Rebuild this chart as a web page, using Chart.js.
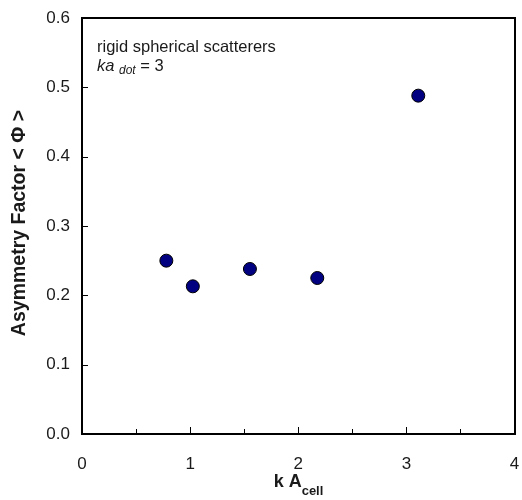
<!DOCTYPE html>
<html>
<head>
<meta charset="utf-8">
<script src="https://cdn.jsdelivr.net/npm/chart.js@4"></script>
<style>
  html, body { margin: 0; padding: 0; background: #fff; overflow: hidden; }
  #wrap { width: 522px; height: 500px; }
  canvas { display: block; }
</style>
</head>
<body>
<div id="wrap"><canvas id="chart" width="522" height="500"></canvas></div>
<script>
// k A_cell values and asymmetry factor
const kAcell = [0.78, 1.025, 1.553, 2.176, 3.11];
const asymmetry = [0.250, 0.213, 0.238, 0.225, 0.488];
const xTicks = [0, 1, 2, 3, 4];
const yTicks = [0.0, 0.1, 0.2, 0.3, 0.4, 0.5, 0.6];

const points = kAcell.map((x, i) => ({ x: x, y: asymmetry[i] }));
const FONT = 'Liberation Sans, Arial, sans-serif';

// frame, inward ticks, axis titles and the note in the corner
const decorations = {
  id: 'decorations',
  afterDraw(chart) {
    const ctx = chart.ctx;
    const xs = chart.scales.x;
    const ys = chart.scales.y;
    const left = Math.round(xs.getPixelForValue(0));
    const right = Math.round(xs.getPixelForValue(4));
    const top = Math.round(ys.getPixelForValue(0.6));
    const bottom = Math.round(ys.getPixelForValue(0));
    ctx.save();
    ctx.fillStyle = '#000';
    // x ticks: major at integers, minor halfway
    for (let v = 0; v <= 4; v += 0.5) {
      const px = Math.round(xs.getPixelForValue(v));
      const len = Number.isInteger(v) ? 7 : 5;
      ctx.fillRect(px, bottom - len, 1, len);
    }
    yTicks.forEach(v => {
      const py = Math.round(ys.getPixelForValue(v));
      ctx.fillRect(left, py, 6, 1);
    });
    // frame, 2px on each side
    ctx.fillRect(left - 1, top - 1, right - left + 2, 2);
    ctx.fillRect(left - 1, bottom - 1, right - left + 2, 2);
    ctx.fillRect(left - 1, top - 1, 2, bottom - top + 2);
    ctx.fillRect(right - 1, top - 1, 2, bottom - top + 2);

    ctx.fillStyle = '#1a1a1a';
    // y title
    ctx.save();
    ctx.translate(20, (top + bottom) / 2 - 3);
    ctx.rotate(-Math.PI / 2);
    ctx.font = 'bold 19.5px ' + FONT;
    ctx.textAlign = 'center';
    ctx.textBaseline = 'middle';
    ctx.fillText('Asymmetry Factor < \u03A6 >', 0, 0);
    ctx.restore();

    // x title with subscript
    const cx = (left + right) / 2;
    ctx.textBaseline = 'alphabetic';
    ctx.font = 'bold 18px ' + FONT;
    const main = 'k A';
    const mainW = ctx.measureText(main).width;
    ctx.font = 'bold 13px ' + FONT;
    const sub = 'cell';
    const subW = ctx.measureText(sub).width;
    const startX = cx - (mainW + subW) / 2;
    ctx.textAlign = 'left';
    ctx.font = 'bold 18px ' + FONT;
    ctx.fillText(main, startX, 487);
    ctx.font = 'bold 13px ' + FONT;
    ctx.fillText(sub, startX + mainW, 495);

    // note
    ctx.font = '16.5px ' + FONT;
    ctx.fillText('rigid spherical scatterers', 97, 52);
    let tx = 97;
    const ty = 71;
    ctx.font = 'italic 16.5px ' + FONT;
    ctx.fillText('ka', tx, ty);
    tx += ctx.measureText('ka ').width;
    ctx.font = 'italic 12px ' + FONT;
    ctx.fillText('dot', tx, ty + 3);
    tx += ctx.measureText('dot').width;
    ctx.font = '16.5px ' + FONT;
    ctx.fillText(' = 3', tx, ty);
    ctx.restore();
  }
};

new Chart(document.getElementById('chart'), {
  type: 'scatter',
  data: {
    datasets: [{
      data: points,
      backgroundColor: '#000080',
      borderColor: '#000',
      borderWidth: 1,
      pointRadius: 6.5,
      pointHoverRadius: 6.5
    }]
  },
  options: {
    responsive: false,
    animation: false,
    layout: { padding: { left: 0, top: 18, right: 6, bottom: 0 } },
    plugins: { legend: { display: false }, tooltip: { enabled: false } },
    scales: {
      x: {
        type: 'linear',
        min: 0, max: 4,
        afterBuildTicks: s => { s.ticks = xTicks.map(v => ({ value: v })); },
        afterFit: s => { s.height = 66; s.paddingLeft = 0; s.paddingRight = 0; },
        grid: { display: false, drawTicks: false },
        border: { display: false },
        ticks: {
          padding: 20,
          color: '#1a1a1a',
          font: { family: FONT, size: 17 },
          callback: v => String(v)
        }
      },
      y: {
        type: 'linear',
        min: 0, max: 0.6,
        afterBuildTicks: s => { s.ticks = yTicks.map(v => ({ value: v })); },
        afterFit: s => { s.width = 82; s.paddingTop = 0; s.paddingBottom = 0; },
        grid: { display: false, drawTicks: false },
        border: { display: false },
        ticks: {
          padding: 12,
          color: '#1a1a1a',
          font: { family: FONT, size: 17 },
          callback: v => Number(v).toFixed(1)
        }
      }
    }
  },
  plugins: [decorations]
});
</script>
</body>
</html>
